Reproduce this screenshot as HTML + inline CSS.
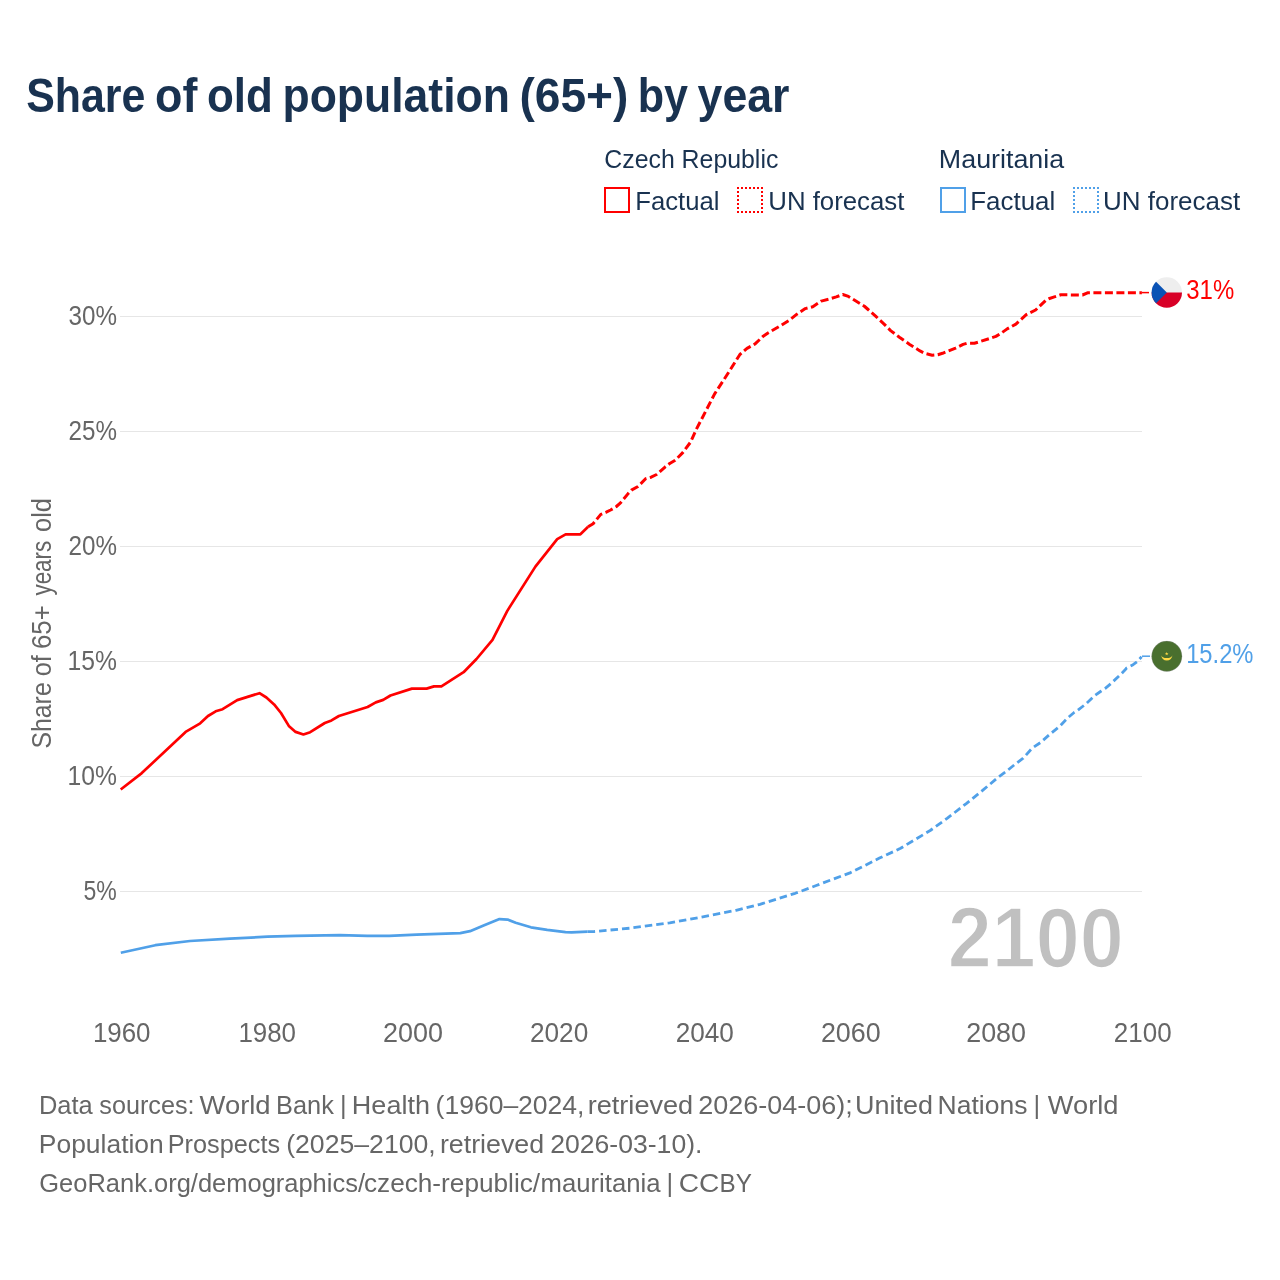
<!DOCTYPE html>
<html><head><meta charset="utf-8">
<style>
html,body{margin:0;padding:0;background:#fff;}
body{width:1280px;height:1280px;overflow:hidden;}
svg{display:block;will-change:transform;}
text{font-family:"Liberation Sans",sans-serif;}
</style></head><body>
<svg width="1280" height="1280" viewBox="0 0 1280 1280">
<rect width="1280" height="1280" fill="#fff"/>
<rect x="605" y="188" width="24" height="24" fill="none" stroke="#ff0000" stroke-width="2"/>
<path d="M737,187h2v2h-2zM737,191h2v2h-2zM737,195h2v2h-2zM737,199h2v2h-2zM737,203h2v2h-2zM737,207h2v2h-2zM737,211h2v2h-2zM741,187h2v2h-2zM741,211h2v2h-2zM745,187h2v2h-2zM745,211h2v2h-2zM749,187h2v2h-2zM749,211h2v2h-2zM753,187h2v2h-2zM753,211h2v2h-2zM757,187h2v2h-2zM757,211h2v2h-2zM761,187h2v2h-2zM761,191h2v2h-2zM761,195h2v2h-2zM761,199h2v2h-2zM761,203h2v2h-2zM761,207h2v2h-2zM761,211h2v2h-2z" fill="#ff0000"/>
<rect x="941" y="188" width="24" height="24" fill="none" stroke="#50a0e8" stroke-width="2"/>
<path d="M1073,187h2v2h-2zM1073,191h2v2h-2zM1073,195h2v2h-2zM1073,199h2v2h-2zM1073,203h2v2h-2zM1073,207h2v2h-2zM1073,211h2v2h-2zM1077,187h2v2h-2zM1077,211h2v2h-2zM1081,187h2v2h-2zM1081,211h2v2h-2zM1085,187h2v2h-2zM1085,211h2v2h-2zM1089,187h2v2h-2zM1089,211h2v2h-2zM1093,187h2v2h-2zM1093,211h2v2h-2zM1097,187h2v2h-2zM1097,191h2v2h-2zM1097,195h2v2h-2zM1097,199h2v2h-2zM1097,203h2v2h-2zM1097,207h2v2h-2zM1097,211h2v2h-2z" fill="#50a0e8"/>
<line x1="120" y1="316.5" x2="1142" y2="316.5" stroke="#e6e6e6" stroke-width="1"/>
<line x1="120" y1="431.5" x2="1142" y2="431.5" stroke="#e6e6e6" stroke-width="1"/>
<line x1="120" y1="546.5" x2="1142" y2="546.5" stroke="#e6e6e6" stroke-width="1"/>
<line x1="120" y1="661.5" x2="1142" y2="661.5" stroke="#e6e6e6" stroke-width="1"/>
<line x1="120" y1="776.5" x2="1142" y2="776.5" stroke="#e6e6e6" stroke-width="1"/>
<line x1="120" y1="891.5" x2="1142" y2="891.5" stroke="#e6e6e6" stroke-width="1"/>

<text x="26.23" y="112.3" font-size="49" font-weight="bold" fill="#193250" textLength="119.11" lengthAdjust="spacingAndGlyphs">Share</text>
<text x="155.07" y="112.3" font-size="49" font-weight="bold" fill="#193250" textLength="42.34" lengthAdjust="spacingAndGlyphs">of</text>
<text x="206.96" y="112.3" font-size="49" font-weight="bold" fill="#193250" textLength="65.87" lengthAdjust="spacingAndGlyphs">old</text>
<text x="282.48" y="112.3" font-size="49" font-weight="bold" fill="#193250" textLength="227.40" lengthAdjust="spacingAndGlyphs">population</text>
<text x="519.42" y="112.3" font-size="49" font-weight="bold" fill="#193250" textLength="108.94" lengthAdjust="spacingAndGlyphs">(65+)</text>
<text x="637.66" y="112.3" font-size="49" font-weight="bold" fill="#193250" textLength="50.30" lengthAdjust="spacingAndGlyphs">by</text>
<text x="697.60" y="112.3" font-size="49" font-weight="bold" fill="#193250" textLength="91.85" lengthAdjust="spacingAndGlyphs">year</text>
<text x="604.26" y="168.1" font-size="26.5" fill="#193250" textLength="174.10" lengthAdjust="spacingAndGlyphs">Czech Republic</text>
<text x="635.26" y="209.5" font-size="26.5" fill="#193250" textLength="84.29" lengthAdjust="spacingAndGlyphs">Factual</text>
<text x="768.25" y="209.5" font-size="26.5" fill="#193250" textLength="136.16" lengthAdjust="spacingAndGlyphs">UN forecast</text>
<text x="938.88" y="168.1" font-size="26.5" fill="#193250" textLength="125.26" lengthAdjust="spacingAndGlyphs">Mauritania</text>
<text x="970.24" y="209.5" font-size="26.5" fill="#193250" textLength="85.02" lengthAdjust="spacingAndGlyphs">Factual</text>
<text x="1103.04" y="209.5" font-size="26.5" fill="#193250" textLength="137.07" lengthAdjust="spacingAndGlyphs">UN forecast</text>
<text x="68.50" y="324.8" font-size="27" fill="#666666" textLength="48.43" lengthAdjust="spacingAndGlyphs">30%</text>
<text x="68.50" y="439.8" font-size="27" fill="#666666" textLength="48.43" lengthAdjust="spacingAndGlyphs">25%</text>
<text x="68.50" y="554.8" font-size="27" fill="#666666" textLength="48.43" lengthAdjust="spacingAndGlyphs">20%</text>
<text x="67.57" y="669.8" font-size="27" fill="#666666" textLength="49.38" lengthAdjust="spacingAndGlyphs">15%</text>
<text x="67.57" y="784.8" font-size="27" fill="#666666" textLength="49.38" lengthAdjust="spacingAndGlyphs">10%</text>
<text x="83.55" y="899.8" font-size="27" fill="#666666" textLength="33.33" lengthAdjust="spacingAndGlyphs">5%</text>
<text x="92.88" y="1041.8" font-size="27" fill="#666666" textLength="57.65" lengthAdjust="spacingAndGlyphs">1960</text>
<text x="238.38" y="1041.8" font-size="27" fill="#666666" textLength="57.65" lengthAdjust="spacingAndGlyphs">1980</text>
<text x="383.00" y="1041.8" font-size="27" fill="#666666" textLength="59.97" lengthAdjust="spacingAndGlyphs">2000</text>
<text x="529.93" y="1041.8" font-size="27" fill="#666666" textLength="58.32" lengthAdjust="spacingAndGlyphs">2020</text>
<text x="675.63" y="1041.8" font-size="27" fill="#666666" textLength="58.21" lengthAdjust="spacingAndGlyphs">2040</text>
<text x="820.90" y="1041.8" font-size="27" fill="#666666" textLength="59.87" lengthAdjust="spacingAndGlyphs">2060</text>
<text x="966.20" y="1041.8" font-size="27" fill="#666666" textLength="59.87" lengthAdjust="spacingAndGlyphs">2080</text>
<text x="1113.84" y="1041.8" font-size="27" fill="#666666" textLength="57.80" lengthAdjust="spacingAndGlyphs">2100</text>
<text x="1186.31" y="299.2" font-size="27" fill="#ff0000" textLength="47.91" lengthAdjust="spacingAndGlyphs">31%</text>
<text x="1186.14" y="662.9" font-size="27" fill="#50a0e8" textLength="67.35" lengthAdjust="spacingAndGlyphs">15.2%</text>
<text x="947.71" y="966.8" font-size="85" font-weight="bold" fill="#c0c0c0" stroke="#fff" stroke-width="1.6" textLength="175.97" lengthAdjust="spacingAndGlyphs">2100</text>
<text x="38.90" y="1113.6" font-size="25.5" fill="#666666" textLength="53.77" lengthAdjust="spacingAndGlyphs">Data</text>
<text x="99.31" y="1113.6" font-size="25.5" fill="#666666" textLength="95.24" lengthAdjust="spacingAndGlyphs">sources:</text>
<text x="199.50" y="1113.6" font-size="25.5" fill="#666666" textLength="71.13" lengthAdjust="spacingAndGlyphs">World</text>
<text x="276.11" y="1113.6" font-size="25.5" fill="#666666" textLength="57.76" lengthAdjust="spacingAndGlyphs">Bank</text>
<text x="339.90" y="1113.6" font-size="25.5" fill="#666666">|</text>
<text x="351.88" y="1113.6" font-size="25.5" fill="#666666" textLength="78.04" lengthAdjust="spacingAndGlyphs">Health</text>
<text x="435.56" y="1113.6" font-size="25.5" fill="#666666" textLength="148.95" lengthAdjust="spacingAndGlyphs">(1960–2024,</text>
<text x="587.69" y="1113.6" font-size="25.5" fill="#666666" textLength="105.51" lengthAdjust="spacingAndGlyphs">retrieved</text>
<text x="698.34" y="1113.6" font-size="25.5" fill="#666666" textLength="154.39" lengthAdjust="spacingAndGlyphs">2026-04-06);</text>
<text x="855.08" y="1113.6" font-size="25.5" fill="#666666" textLength="77.98" lengthAdjust="spacingAndGlyphs">United</text>
<text x="937.62" y="1113.6" font-size="25.5" fill="#666666" textLength="89.76" lengthAdjust="spacingAndGlyphs">Nations</text>
<text x="1033.50" y="1113.6" font-size="25.5" fill="#666666">|</text>
<text x="1047.80" y="1113.6" font-size="25.5" fill="#666666" textLength="70.62" lengthAdjust="spacingAndGlyphs">World</text>
<text x="38.83" y="1152.5" font-size="25.5" fill="#666666" textLength="124.94" lengthAdjust="spacingAndGlyphs">Population</text>
<text x="167.72" y="1152.5" font-size="25.5" fill="#666666" textLength="112.37" lengthAdjust="spacingAndGlyphs">Prospects</text>
<text x="286.16" y="1152.5" font-size="25.5" fill="#666666" textLength="149.56" lengthAdjust="spacingAndGlyphs">(2025–2100,</text>
<text x="439.95" y="1152.5" font-size="25.5" fill="#666666" textLength="104.13" lengthAdjust="spacingAndGlyphs">retrieved</text>
<text x="550.21" y="1152.5" font-size="25.5" fill="#666666" textLength="152.19" lengthAdjust="spacingAndGlyphs">2026-03-10).</text>
<text x="39.30" y="1191.6" font-size="25.5" fill="#666666" textLength="325.71" lengthAdjust="spacingAndGlyphs">GeoRank.org/demographics/</text>
<text x="363.97" y="1191.6" font-size="25.5" fill="#666666" textLength="176.11" lengthAdjust="spacingAndGlyphs">czech-republic/</text>
<text x="540.59" y="1191.6" font-size="25.5" fill="#666666" textLength="119.97" lengthAdjust="spacingAndGlyphs">mauritania</text>
<text x="666.60" y="1191.6" font-size="25.5" fill="#666666">|</text>
<text x="678.70" y="1191.6" font-size="25.5" fill="#666666" textLength="40.63" lengthAdjust="spacingAndGlyphs">CC</text>
<text x="719.50" y="1191.6" font-size="25.5" fill="#666666" textLength="32.38" lengthAdjust="spacingAndGlyphs">BY</text>
<text transform="translate(50.9,747.6) rotate(-90)" x="-0.92" y="0" font-size="27" fill="#666666" textLength="66.19" lengthAdjust="spacingAndGlyphs">Share</text>
<text transform="translate(50.9,747.6) rotate(-90)" x="71.26" y="0" font-size="27" fill="#666666" textLength="21.10" lengthAdjust="spacingAndGlyphs">of</text>
<text transform="translate(50.9,747.6) rotate(-90)" x="98.65" y="0" font-size="27" fill="#666666" textLength="43.73" lengthAdjust="spacingAndGlyphs">65+</text>
<text transform="translate(50.9,747.6) rotate(-90)" x="152.10" y="0" font-size="27" fill="#666666" textLength="54.65" lengthAdjust="spacingAndGlyphs">years</text>
<text transform="translate(50.9,747.6) rotate(-90)" x="215.66" y="0" font-size="27" fill="#666666" textLength="33.91" lengthAdjust="spacingAndGlyphs">old</text>

<polyline points="120.7,789.5 141.8,773.1 185.6,731.9 200.2,723.3 208,716 215.7,711.3 222.6,709.2 237.2,700.1 259.5,693.2 266.4,697.5 274.1,704.4 281,713 288.8,725.9 295.6,731.9 303.4,734.5 310.2,732.2 324.8,723 331.5,720.4 338.9,716 367.6,707 375.8,702.4 383.2,699.9 390.5,695.5 411.9,688.6 426.6,688.6 434,686.4 441.4,686.4 463.6,672.2 476.5,659 492.5,639.8 507.3,610.9 535.4,566.6 557.2,539.2 565.6,534.3 580.4,534.3 588.1,526.8" fill="none" stroke="#ff0000" stroke-width="2.7" stroke-linejoin="round"/>
<polyline points="588.1,526.8 593.1,523.7 600.8,514.4 606.25,512.2 610.6,510 616.1,506.75 620.5,502.9 628.1,493.6 631.4,490.1 638,486.5 645.6,478.8 651.1,477.2 656.6,474.5 665.3,466.8 669.7,463.5 675.2,460.2 682.8,452.6 690.5,442.2 696.2,429.6 714.5,394.1 727.7,373.8 739.9,354.5 747,348.4 755.1,343.9 763.2,336.2 768.3,332.7 781.5,325.1 789.6,320 796.9,314.2 805.3,308.6 812.8,306.7 821.25,301.1 828.75,299.2 836.25,296.9 842.8,294.5 848.4,296.4 855.9,301.1 864.4,306.25 868.1,309.5 875.6,316.1 884.1,324.1 890.6,330.6 899.4,337.3 909.7,344.4 920,350.9 924.7,353.3 932.2,355.2 937.8,354.7 942.5,353.3 955.6,348.1 963.1,344.4 966.9,343.25 974.4,343.25 980,341.6 995.9,336.4 1000.6,333.6 1007.2,328.9 1015.9,324.1 1026.25,314.7 1035.6,310 1045.9,300.2 1048.75,298.75 1054.4,296.9 1060.9,294.8 1082.5,295 1088.1,292.7 1141.9,292.7" fill="none" stroke="#ff0000" stroke-width="3" stroke-dasharray="8 3.5" stroke-linejoin="round"/>
<line x1="1141.9" y1="292.6" x2="1149" y2="292.6" stroke="#ff0000" stroke-width="1.5"/>
<polyline points="120.8,952.8 155.3,945.2 190,941 230,938.6 267.5,936.7 295.6,935.9 340,935.2 367.3,935.8 389.2,935.8 416.6,934.7 460.3,933.05 470,931.2 484.2,925.2 499.5,919.1 507.6,919.6 515.7,922.7 530.9,927.3 547.2,929.8 565.5,932.1 571.6,932.3 587.6,931.6" fill="none" stroke="#50a0e8" stroke-width="2.7" stroke-linejoin="round"/>
<polyline points="587.6,931.6 594.4,931.5 629.8,928.2 669.7,922.9 709.5,915.6 736.1,910.3 760,904.3 795.2,893.3 816.25,885.5 850,872.9 879.5,858.1 900.6,848.3 921.7,835.6 930.2,830.5 947.1,818.4 966.25,803.6 983.8,789.4 998,777.4 1005.6,771.9 1014.4,764.8 1023.2,758.2 1031.9,748.4 1040.7,742.4 1049.4,734.7 1060,726 1067.5,718.1 1074.1,712.5 1077.8,710.2 1086.25,703.6 1094.7,695.6 1101.25,691 1105,688.6 1110.6,683.9 1120,675 1124.7,670.3 1126.6,668 1133.1,664.7 1136.9,661.9 1141.6,656.7" fill="none" stroke="#50a0e8" stroke-width="2.8" stroke-dasharray="7.5 4" stroke-linejoin="round"/>
<line x1="1142" y1="656.2" x2="1150" y2="656.2" stroke="#50a0e8" stroke-width="1.5"/>
<clipPath id="cz"><circle cx="1166.8" cy="292.5" r="15.2"/></clipPath>
<g clip-path="url(#cz)">
<rect x="1150" y="276" width="34" height="17" fill="#eeeeee"/>
<rect x="1150" y="292.5" width="34" height="17" fill="#d80027"/>
<polygon points="1140,265.7 1166.8,292.5 1140,319.3" fill="#0a52b5"/>
</g>
<circle cx="1166.8" cy="656.3" r="15.2" fill="#496f2e" stroke="#9a94a8" stroke-opacity="0.45" stroke-width="0.6"/>
<path d="M1161.2,655.0 A5.6,5.6 0 0 0 1172.4,655.0 A5.4,3.0 0 0 1 1161.2,655.0 Z" fill="#ffda44"/>
<polygon points="1166.70,651.90 1167.17,653.15 1168.51,653.21 1167.46,654.05 1167.82,655.34 1166.70,654.60 1165.58,655.34 1165.94,654.05 1164.89,653.21 1166.23,653.15" fill="#ffda44"/>
</svg>
</body></html>
